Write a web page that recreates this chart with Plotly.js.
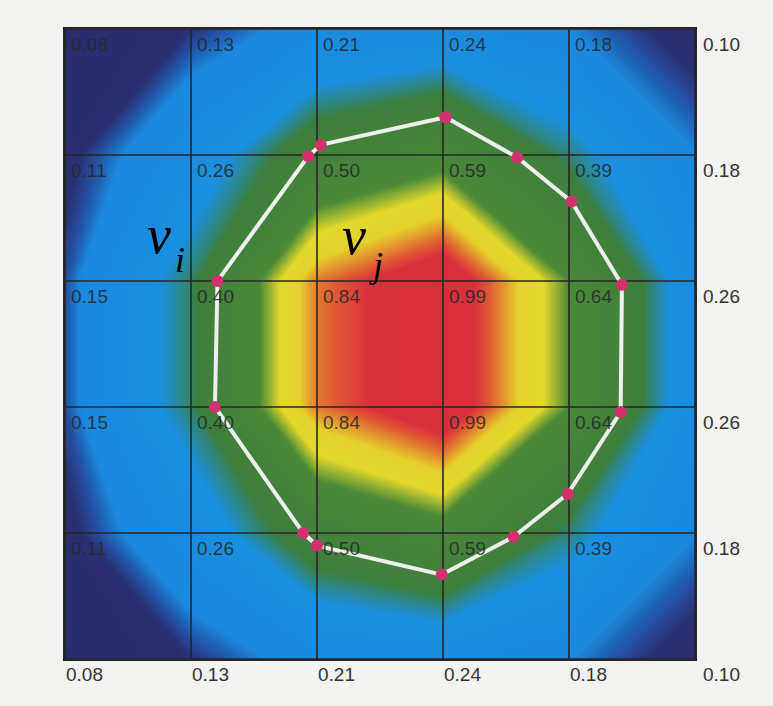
<!DOCTYPE html>
<html>
<head>
<meta charset="utf-8">
<script src="https://cdn.plot.ly/plotly-3.0.1.min.js"></script>
<style>
  html, body { margin: 0; padding: 0; background: #f3f3f1; }
  #chart { width: 773px; height: 706px; }
</style>
</head>
<body>
<div id="chart"></div>
<script>
// Grid node positions (columns left->right, rows bottom->top)
const xNodes = [0, 1, 2, 3, 4, 5];
const yNodes = [0, 1, 2, 3, 4, 5];

// Values at grid nodes, rows listed bottom -> top
const row0 = [0.08, 0.13, 0.21, 0.24, 0.18, 0.10];
const row1 = [0.11, 0.26, 0.50, 0.59, 0.39, 0.18];
const row2 = [0.15, 0.40, 0.84, 0.99, 0.64, 0.26];
const row3 = [0.15, 0.40, 0.84, 0.99, 0.64, 0.26];
const row4 = [0.11, 0.26, 0.50, 0.59, 0.39, 0.18];
const row5 = [0.08, 0.13, 0.21, 0.24, 0.18, 0.10];
const zRows = [row0, row1, row2, row3, row4, row5];

// Polygon vertices (white outline with magenta points)
const polyX = [3.02, 3.59, 4.02, 4.42, 4.41, 3.99, 3.56, 2.99, 2.00, 1.89, 1.19, 1.21, 1.93, 2.03, 3.02];
const polyY = [4.30, 3.98, 3.63, 2.97, 1.96, 1.31, 0.97, 0.67, 0.90, 1.00, 2.00, 3.00, 3.99, 4.08, 4.30];

// Vertex name labels
const vertexLabels = ['v', 'v'];
const vertexSubs = ['i', 'j'];

const colorscale = [
  [0.00, '#27286a'],
  [0.13, '#2b2f72'],
  [0.155, '#2256a8'],
  [0.18, '#1a88de'],
  [0.34, '#1a90e0'],
  [0.42, '#3e7f3c'],
  [0.64, '#4a8a38'],
  [0.71, '#e2d82c'],
  [0.78, '#e6d02c'],
  [0.86, '#e05a34'],
  [0.90, '#d8323c'],
  [1.00, '#d8303a']
];

const field = {
  type: 'contour',
  x: xNodes, y: yNodes, z: zRows,
  contours: { start: 0, end: 1, size: 0.004, coloring: 'fill', showlines: false },
  line: { width: 0, smoothing: 0 },
  colorscale: colorscale,
  showscale: false,
  hoverinfo: 'skip'
};

// grid lines built from the node arrays
const gx = [], gy = [];
xNodes.forEach(v => { gx.push(v, v, null); gy.push(yNodes[0], yNodes[yNodes.length - 1], null); });
yNodes.forEach(v => { gx.push(xNodes[0], xNodes[xNodes.length - 1], null); gy.push(v, v, null); });
const grid = {
  type: 'scatter', mode: 'lines', x: gx, y: gy,
  line: { color: '#262626', width: 1.6 },
  hoverinfo: 'skip', showlegend: false
};

const poly = {
  type: 'scatter', mode: 'lines+markers', x: polyX, y: polyY,
  line: { color: '#eeeeee', width: 4 },
  marker: { color: '#d2306e', size: 12 },
  hoverinfo: 'skip', showlegend: false, cliponaxis: false
};

const annotations = [];
zRows.forEach((row, r) => {
  row.forEach((v, c) => {
    annotations.push({
      x: xNodes[c], y: yNodes[r], xref: 'x', yref: 'y',
      text: v.toFixed(2), showarrow: false,
      xanchor: 'left', yanchor: 'top',
      xshift: c === xNodes.length - 1 ? 6 : (r === 0 ? -1 : 4),
      yshift: -3,
      font: { family: 'Liberation Sans, Arial, sans-serif', size: 19,
              color: (r === 0 || c === xNodes.length - 1) ? '#333333' : 'rgba(40,40,40,0.85)' }
    });
  });
});

const serif = 'Liberation Serif, Times New Roman, serif';
// [x of v, y of v, x of subscript, y of subscript]
const vPos = [[0.643, 3.369, 0.862, 3.17], [2.19, 3.36, 2.405, 3.127]];
vertexLabels.forEach((lab, k) => {
  annotations.push({
    x: vPos[k][0], y: vPos[k][1], xref: 'x', yref: 'y',
    text: '<i>' + lab + '</i>', showarrow: false,
    xanchor: 'left', yanchor: 'middle', borderpad: 0,
    font: { family: serif, size: 54, color: '#000' }
  });
  annotations.push({
    x: vPos[k][2], y: vPos[k][3], xref: 'x', yref: 'y',
    text: '<i>' + vertexSubs[k] + '</i>', showarrow: false,
    xanchor: 'left', yanchor: 'middle', borderpad: 0,
    font: { family: serif, size: 36, color: '#000' }
  });
});

const axisCommon = {
  range: [0, 5], showticklabels: false, ticks: '', showgrid: false, zeroline: false,
  showline: true, mirror: true, linecolor: '#262626', linewidth: 2, fixedrange: true
};

const layout = {
  width: 773, height: 706,
  margin: { l: 65, r: 78, t: 29, b: 47, pad: 0 },
  paper_bgcolor: '#f3f3f1', plot_bgcolor: '#f3f3f1',
  xaxis: Object.assign({}, axisCommon),
  yaxis: Object.assign({}, axisCommon),
  annotations: annotations,
  showlegend: false
};

Plotly.newPlot('chart', [field, grid, poly], layout, { displayModeBar: false, staticPlot: true });
</script>
</body>
</html>
